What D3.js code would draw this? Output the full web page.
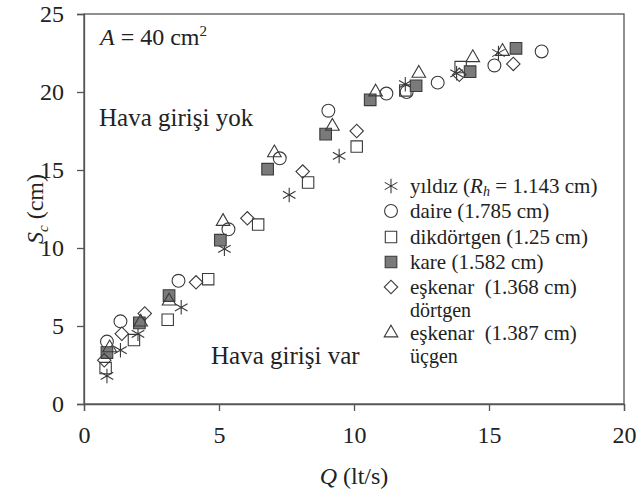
<!DOCTYPE html>
<html>
<head>
<meta charset="utf-8">
<script src="https://cdn.jsdelivr.net/npm/d3@7"></script>
<style>
  body { margin: 0; background: #fff; }
  svg text { font-family: "Liberation Serif", "Times New Roman", Times, "DejaVu Serif", serif; fill: #222; }
</style>
</head>
<body>
<div id="chart"></div>
<script>
// data: [Q (lt/s), Sc (cm)]
const yildiz = [[0.85, 1.8], [1.35, 3.45], [2.0, 4.5], [3.6, 6.2], [5.2, 9.95], [7.6, 13.4],
                [9.45, 15.9], [11.9, 20.5], [13.8, 21.2], [15.35, 22.5]];
const daire = [[0.85, 4.0], [1.35, 5.3], [3.5, 7.9], [5.35, 11.2], [7.25, 15.75], [9.05, 18.8],
               [11.2, 19.9], [11.95, 20.0], [13.1, 20.6], [15.2, 21.7], [16.95, 22.6]];
const dikdortgen = [[0.8, 2.3], [1.85, 4.1], [3.1, 5.4], [4.6, 8.0], [6.45, 11.5], [8.3, 14.2],
                    [10.1, 16.5], [11.9, 20.1], [13.95, 21.6]];
const kare = [[0.85, 3.3], [2.05, 5.2], [3.15, 6.95], [5.05, 10.5], [6.8, 15.05], [8.95, 17.3],
              [10.6, 19.5], [12.3, 20.4], [14.3, 21.3], [16.0, 22.8]];
const eskenarDortgen = [[0.75, 2.8], [1.4, 4.5], [2.25, 5.8], [4.15, 7.8], [6.05, 11.9], [8.1, 14.9],
                        [10.1, 17.5], [13.9, 21.1], [15.9, 21.8]];
const eskenarUcgen = [[0.95, 3.6], [2.1, 5.25], [3.15, 6.6], [5.15, 11.7], [7.05, 16.1], [9.2, 17.8],
                      [10.8, 20.0], [12.4, 21.2], [14.4, 22.2], [15.5, 22.6]];

const xTicks = [0, 5, 10, 15, 20];
const yTicks = [0, 5, 10, 15, 20, 25];

const W = 640, H = 493;
const m = { top: 14, right: 16, bottom: 89, left: 84 };
const serif = '"Liberation Serif", "Times New Roman", Times, serif';

const svg = d3.select('#chart').append('svg')
  .attr('width', W)
  .attr('height', H)
  .attr('font-family', serif);

const x = d3.scaleLinear().domain([0, 20]).range([m.left, W - m.right]);
const y = d3.scaleLinear().domain([0, 25]).range([H - m.bottom, m.top]);

const axisColor = '#555';

// frame
svg.append('rect')
  .attr('x', x(0)).attr('y', y(25))
  .attr('width', x(20) - x(0)).attr('height', y(0) - y(25))
  .attr('fill', 'none').attr('stroke', axisColor).attr('stroke-width', 1.3);

const gx = svg.append('g')
  .attr('transform', `translate(0,${y(0)})`)
  .call(d3.axisBottom(x).tickValues(xTicks).tickSize(7).tickPadding(15));
const gy = svg.append('g')
  .attr('transform', `translate(${x(0)},0)`)
  .call(d3.axisLeft(y).tickValues(yTicks).tickSize(7).tickPadding(13));

[gx, gy].forEach(g => {
  g.attr('font-family', serif);
  g.select('.domain').attr('stroke', axisColor).attr('stroke-width', 1.3);
  g.selectAll('.tick line').attr('stroke', axisColor).attr('stroke-width', 1.3);
  g.selectAll('.tick text').attr('font-size', 24).attr('fill', '#222');
});

// asterisk marker (three crossing strokes)
const asterisk = {
  draw(ctx, size) {
    const r = Math.sqrt(size) / 2;
    for (let k = 0; k < 3; k++) {
      const a = Math.PI / 2 + k * Math.PI / 3;
      ctx.moveTo(r * Math.cos(a), r * Math.sin(a));
      ctx.lineTo(-r * Math.cos(a), -r * Math.sin(a));
    }
  }
};

const series = [
  { name: 'yildiz', data: yildiz, type: asterisk, size: 210, fill: 'none', rot: 0 },
  { name: 'daire', data: daire, type: d3.symbolCircle, size: 130, fill: 'none', rot: 0 },
  { name: 'dikdortgen', data: dikdortgen, type: d3.symbolSquare, size: 130, fill: 'none', rot: 0 },
  { name: 'kare', data: kare, type: d3.symbolSquare, size: 135, fill: '#7a7a7a', rot: 0 },
  { name: 'eskenar-dortgen', data: eskenarDortgen, type: d3.symbolSquare, size: 90, fill: 'none', rot: 45 },
  { name: 'eskenar-ucgen', data: eskenarUcgen, type: d3.symbolTriangle, size: 80, fill: 'none', rot: 0 }
];

series.forEach(s => {
  svg.append('g').attr('class', s.name)
    .selectAll('path')
    .data(s.data)
    .enter()
    .append('path')
    .attr('d', d3.symbol().type(s.type).size(s.size))
    .attr('transform', d => `translate(${x(d[0])},${y(d[1])}) rotate(${s.rot})`)
    .attr('fill', s.fill)
    .attr('stroke', '#3a3a3a')
    .attr('stroke-width', 1.1);
});

// legend
const legendRows = [
  { s: 0, y: 186, lines: ['yıldız (<tspan font-style="italic">R</tspan><tspan font-style="italic" font-size="14" dy="3">h</tspan><tspan dy="-3"> = 1.143 cm)</tspan>'] },
  { s: 1, y: 211, lines: ['daire (1.785 cm)'] },
  { s: 2, y: 237, lines: ['dikdörtgen (1.25 cm)'] },
  { s: 3, y: 262, lines: ['kare (1.582 cm)'] },
  { s: 4, y: 287, lines: ['eşkenar\u00a0 (1.368 cm)', 'dörtgen'] },
  { s: 5, y: 333, lines: ['eşkenar\u00a0 (1.387 cm)', 'üçgen'] }
];

const lg = svg.append('g').attr('class', 'legend');
legendRows.forEach(r => {
  const s = series[r.s];
  lg.append('path')
    .attr('d', d3.symbol().type(s.type).size(s.size))
    .attr('transform', `translate(391,${r.y}) rotate(${s.rot})`)
    .attr('fill', s.fill)
    .attr('stroke', '#3a3a3a')
    .attr('stroke-width', 1.1);
  r.lines.forEach((line, i) => {
    lg.append('text')
      .attr('x', 410)
      .attr('y', r.y + 7 + i * 23)
      .attr('font-size', i === 0 ? 21 : 20)
      .html(line);
  });
});

// annotations
svg.append('text').attr('x', 100).attr('y', 45).attr('font-size', 24)
  .html('<tspan font-style="italic">A</tspan> = 40 cm<tspan font-size="15" dy="-9">2</tspan>');
svg.append('text').attr('x', 99).attr('y', 126).attr('font-size', 25).text('Hava girişi yok');
svg.append('text').attr('x', 211).attr('y', 364).attr('font-size', 25).text('Hava girişi var');

// axis titles
svg.append('text').attr('x', x(10)).attr('y', 484).attr('text-anchor', 'middle').attr('font-size', 24)
  .html('<tspan font-style="italic">Q</tspan> (lt/s)');
svg.append('text')
  .attr('transform', `translate(43,${y(12.5)}) rotate(-90)`)
  .attr('text-anchor', 'middle').attr('font-size', 24)
  .html('<tspan font-style="italic">S</tspan><tspan font-style="italic" font-size="15" dy="5">c</tspan><tspan dy="-5"> (cm)</tspan>');
</script>
</body>
</html>
